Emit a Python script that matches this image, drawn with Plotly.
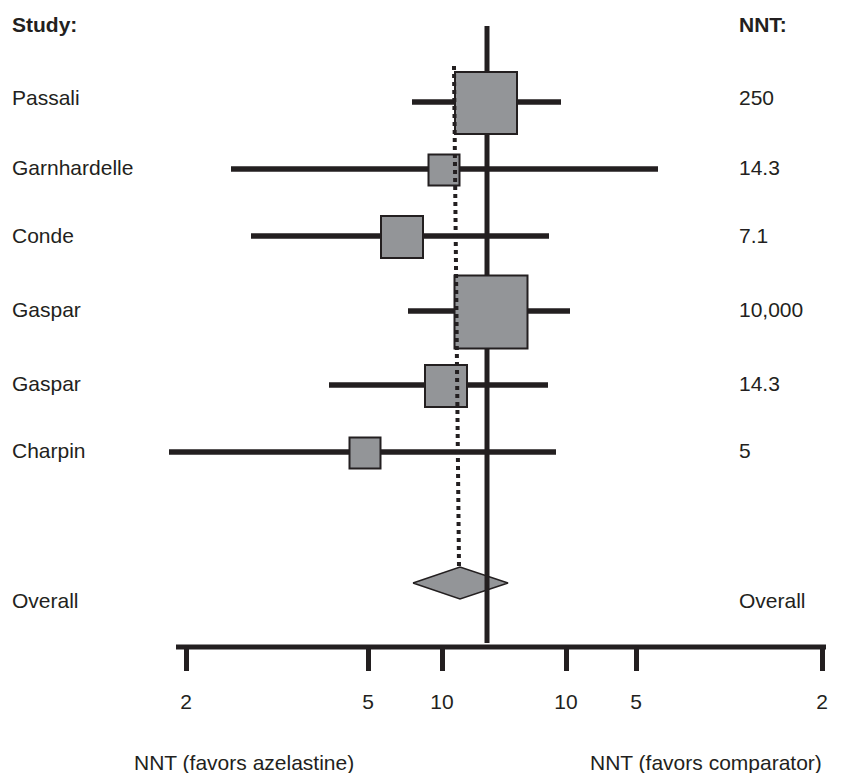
import plotly.graph_objects as go

# ---- data (x = horizontal position relative to the null line, y = row position) ----
studies = ["Passali", "Garnhardelle", "Conde", "Gaspar", "Gaspar", "Charpin"]
nnt_text = ["250", "14.3", "7.1", "10,000", "14.3", "5"]
est = [-1, -43, -85, 4, -41, -122]
ci_low = [-75, -256, -236, -79, -158, -318]
ci_high = [74, 171, 62, 83, 61, 69]
box_size = [62, 31, 42, 73, 42, 31]
row_y = [102, 169, 236, 311, 385, 452]
label_y = [100, 170, 238, 312, 386, 453]

overall_est = -27
overall_low = -74
overall_high = 21
overall_y = 583
overall_half_h = 16
overall_label_y = 603

tick_pos = [-301, -119, -45, 79, 149, 335]
tick_text = ["2", "5", "10", "10", "5", "2"]
axis_start, axis_end = -311, 339

INK = "#231f20"
FILL = "#939598"
FONT = "Liberation Sans, Arial, sans-serif"
FS = 21

fig = go.Figure()

# overall diamond (drawn first: the null line runs over it)
fig.add_trace(go.Scatter(
    x=[overall_low, overall_est, overall_high, overall_est, overall_low],
    y=[overall_y, overall_y - overall_half_h, overall_y, overall_y + overall_half_h, overall_y],
    mode="lines", fill="toself", fillcolor=FILL,
    line=dict(color=INK, width=1.5), hoverinfo="skip"))

# null line
fig.add_trace(go.Scatter(x=[0, 0], y=[26, 643], mode="lines",
                         line=dict(color=INK, width=5), hoverinfo="skip"))

# confidence intervals
cx, cy = [], []
for lo, hi, y in zip(ci_low, ci_high, row_y):
    cx += [lo, hi, None]
    cy += [y, y, None]
fig.add_trace(go.Scatter(x=cx, y=cy, mode="lines",
                         line=dict(color=INK, width=5.5), hoverinfo="skip"))

# study boxes
fig.add_trace(go.Scatter(x=est, y=[y + 1 for y in row_y], mode="markers",
                         marker=dict(symbol="square", size=box_size, color=FILL, opacity=1,
                                     line=dict(color=INK, width=2)),
                         hoverinfo="skip"))

# overall estimate dotted line (drawn over the boxes)
fig.add_trace(go.Scatter(x=[overall_est - 6, overall_est - 1], y=[66, overall_y - overall_half_h],
                         mode="lines", line=dict(color=INK, width=4, dash="dot"),
                         hoverinfo="skip"))

# left and right text columns
fig.add_trace(go.Scatter(
    x=[-475] * (len(studies) + 1), y=label_y + [overall_label_y],
    mode="text", text=studies + ["Overall"], textposition="middle right",
    textfont=dict(family=FONT, size=FS, color=INK), hoverinfo="skip"))
fig.add_trace(go.Scatter(
    x=[252] * (len(nnt_text) + 1), y=label_y + [overall_label_y],
    mode="text", text=nnt_text + ["Overall"], textposition="middle right",
    textfont=dict(family=FONT, size=FS, color=INK), hoverinfo="skip"))
fig.add_trace(go.Scatter(
    x=[-475, 252], y=[27, 27], mode="text",
    text=["<b>Study:</b>", "<b>NNT:</b>"], textposition="middle right",
    textfont=dict(family=FONT, size=FS, color=INK), hoverinfo="skip"))

# x axis line
fig.add_shape(type="line", xref="x", yref="paper", x0=axis_start, x1=axis_end, y0=0, y1=0,
              line=dict(color=INK, width=5))

fig.add_annotation(x=-243, y=-0.178, xref="x", yref="paper", text="NNT (favors azelastine)",
                   showarrow=False, font=dict(family=FONT, size=FS, color=INK), yanchor="middle")
fig.add_annotation(x=219, y=-0.178, xref="x", yref="paper", text="NNT (favors comparator)",
                   showarrow=False, font=dict(family=FONT, size=FS, color=INK), yanchor="middle")

fig.update_layout(
    width=854, height=773,
    margin=dict(l=0, r=0, t=0, b=126),
    plot_bgcolor="white", paper_bgcolor="white",
    showlegend=False,
    xaxis=dict(range=[-487, 367], showgrid=False, zeroline=False, showline=False,
               tickmode="array", tickvals=tick_pos, ticktext=tick_text,
               ticks="outside", ticklen=23, tickwidth=5, tickcolor=INK,
               ticklabelstandoff=13,
               tickfont=dict(family=FONT, size=FS, color=INK), fixedrange=True),
    yaxis=dict(range=[647, 0], showgrid=False, zeroline=False, showline=False,
               showticklabels=False, ticks="", fixedrange=True),
)

fig.write_html("out.html")
